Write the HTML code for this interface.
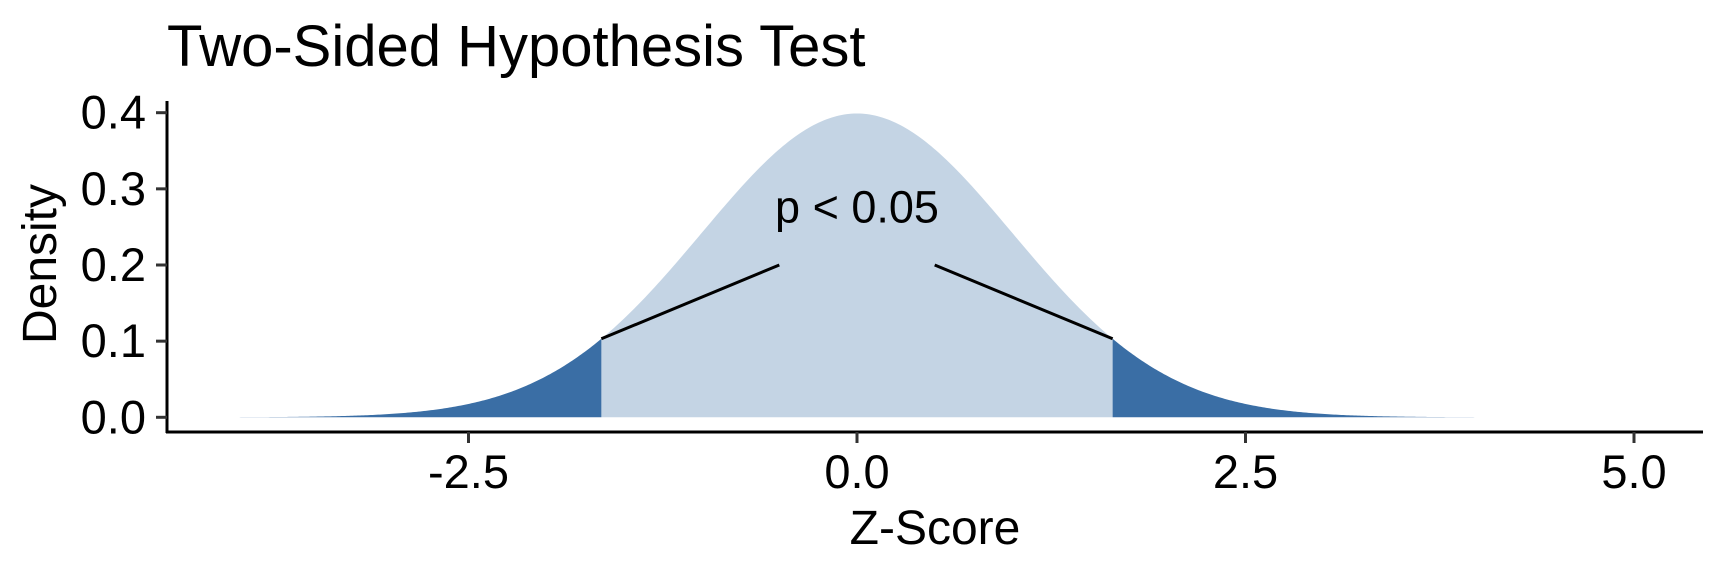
<!DOCTYPE html>
<html><head><meta charset="utf-8"><style>
html,body{margin:0;padding:0;background:#fff;}
svg{display:block;font-family:"Liberation Sans",sans-serif;}
</style></head><body>
<svg id="chart" width="1728" height="576" viewBox="0 0 1728 576">
<text x="167" y="66" font-size="58" fill="#000">Two-Sided Hypothesis Test</text>
<g id="plot"></g>
</svg>
<script>
const xTicks = [-2.5, 0.0, 2.5, 5.0];
const xTickLabels = ["-2.5", "0.0", "2.5", "5.0"];
const yTicks = [0.0, 0.1, 0.2, 0.3, 0.4];
const yTickLabels = ["0.0", "0.1", "0.2", "0.3", "0.4"];
const zRange = [-4, 4];
const critical = [-1.645, 1.645];
const labelPoint = [0, 0.27];
const labelLineEnds = [-0.5, 0.5];
const labelLineY = [0.2];
const labelText = ["p < 0.05"];

const NS = "http://www.w3.org/2000/svg";
const g = document.getElementById("plot");
const X = z => 857 + (z * 155.4);
const Y = d => 417.3 - d * 761.5;
const dnorm = z => Math.exp(-z*z/2)/Math.sqrt(2*Math.PI);
function mk(tag, attrs, parent){const e=document.createElementNS(NS,tag);for(const k in attrs)e.setAttribute(k,attrs[k]);(parent||g).appendChild(e);return e;}
function area(a,b){let d="M"+X(a)+","+Y(0);const n=200;for(let i=0;i<=n;i++){const z=a+(b-a)*i/n;d+=" L"+X(z).toFixed(2)+","+Y(dnorm(z)).toFixed(2);}d+=" L"+X(b)+","+Y(0)+"Z";return d;}

const mid = mk("path",{d:area(critical[0],critical[1]),fill:"#c4d4e4"});


const lt = mk("path",{d:area(zRange[0],critical[0]),fill:"#3a6ea5"});


const rt = mk("path",{d:area(critical[1],zRange[1]),fill:"#3a6ea5"});



[0,1].forEach(i=>{
  const l = mk("line",{x1:X(critical[i]),y1:Y(dnorm(critical[i])),x2:X(labelLineEnds[i]),y2:Y(labelLineY[0]),stroke:"#000","stroke-width":3});
  
  
});
const t = mk("text",{x:X(labelPoint[0]),y:Y(labelPoint[1])+11,"font-size":45,"text-anchor":"middle",fill:"#000"});
t.textContent = labelText[0];



const ya = mk("line",{x1:167,y1:101,x2:167,y2:433,stroke:"#000","stroke-width":3});


const xa = mk("line",{x1:166,y1:432,x2:1703,y2:432,stroke:"#000","stroke-width":3});



yTicks.forEach((v,i)=>{
  const tk = mk("line",{x1:156,y1:Y(v),x2:167,y2:Y(v),stroke:"#333","stroke-width":3});
  
  
  const lb = mk("text",{x:146,y:Y(v)+16,"font-size":47,"text-anchor":"end",fill:"#000"});
  lb.textContent = yTickLabels[i];
  
  
});
xTicks.forEach((v,i)=>{
  const tk = mk("line",{x1:X(v),y1:432,x2:X(v),y2:443,stroke:"#333","stroke-width":3});
  
  
  const lb = mk("text",{x:X(v),y:488,"font-size":47,"text-anchor":"middle",fill:"#000"});
  lb.textContent = xTickLabels[i];
  
  
});
const xt = mk("text",{x:935,y:544,"font-size":48,"text-anchor":"middle",fill:"#000"});
xt.textContent = "Z-Score";


const yt = mk("text",{x:0,y:0,"font-size":48,"text-anchor":"middle",fill:"#000",transform:"translate(56,264) rotate(-90)"});
yt.textContent = "Density";


</script>
</body></html>
